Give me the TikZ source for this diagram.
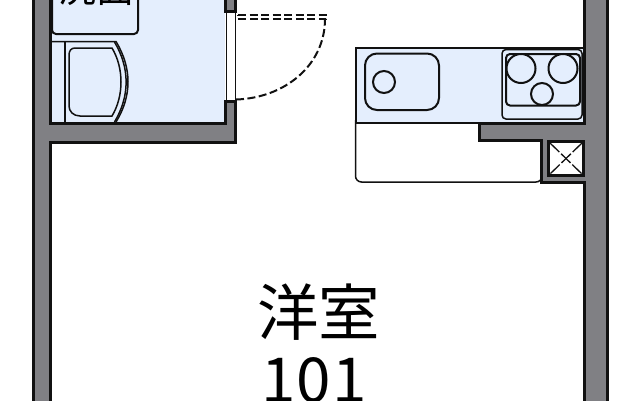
\documentclass[tikz,border=0pt]{standalone}
\usepackage{fontspec}
\usetikzlibrary{calc}
\newfontfamily\cjk{Noto Sans CJK JP}
\definecolor{wallgray}{HTML}{808084}
\definecolor{roomblue}{HTML}{E4EEFD}
\definecolor{linek}{HTML}{111111}
\tikzset{
  wall/.style={fill=wallgray,draw=linek,line width=3pt,line join=miter},
  fixture/.style={draw=linek,line width=2pt},
  thin fixture/.style={draw=linek,line width=1.5pt},
  doorline/.style={draw=linek,line width=2pt,dash pattern=on 8pt off 3.5pt},
  label/.style={font=\cjk,text=black,inner sep=0pt}
}
\begin{document}
\begin{tikzpicture}[x=1pt,y=-1pt]
\useasboundingbox (0,0) rectangle (640,400);
\clip (0,0) rectangle (640,400);
\fill[white] (0,0) rectangle (640,400);
% bathroom floor
\fill[roomblue] (52,-5) rectangle (225,123);
% left wall with partition
\draw[wall] (33.5,-5) -- (33.5,405) -- (50.5,405) -- (50.5,142) -- (235,142) -- (235,101) -- (225,101) -- (225,123) -- (50.5,123) -- (50.5,-5) -- cycle;
% upper door jamb
\draw[wall] (225,-5) -- (225,11) -- (235,11) -- (235,-5);
% door opening
\draw[thin fixture] (226.5,12) -- (226.5,100);
\draw[thin fixture] (235.5,12) -- (235.5,100);
% door leaf and swing
\draw[doorline] (238,14.5) -- (326,14.5) -- (326,19) -- (238,19) -- cycle;
\draw[doorline] (236,99.5) .. controls (285,98) and (325,65) .. (325,19);
% basin counter
\draw[fixture,rounded corners=4pt] (52,-10) -- (52,34) -- (138,34) -- (138,-10);
\node[label,font=\cjk\fontsize{38}{38}\selectfont] (wash) at (96,-11.5) {洗面};
% toilet
\draw[thin fixture] (52,41.5) -- (116,41.5) .. controls (132,68) and (132,96) .. (116,122);
\draw[thin fixture] (114.5,42) .. controls (130,68) and (130,96) .. (114.5,122);
\draw[fixture] (65,41.5) -- (65,122);
\draw[thin fixture] (75,48) -- (112,48) .. controls (124,68) and (124,96) .. (112,116) -- (80,116) .. controls (73,116) and (69,111) .. (69,106) -- (69,55) .. controls (69,51) and (71,48) .. (75,48) -- cycle;
% kitchen floor part and counter
\draw[thin fixture,fill=white,rounded corners=6pt] (355.5,120) -- (355.5,182) -- (542,182) -- (542,120);
\fill[roomblue] (355.5,47.5) rectangle (584,122);
\draw[fixture] (584,47.5) -- (355.5,47.5) -- (355.5,123) -- (480,123);
% right wall, stub and service duct
\draw[wall] (584.5,-5) -- (584.5,123) -- (479.5,123) -- (479.5,140.5) -- (541.5,140.5) -- (541.5,182) -- (584.5,182) -- (584.5,405) -- (607.5,405) -- (607.5,-5) -- cycle;
\node[draw=linek,line width=3pt,fill=white,minimum width=35pt,minimum height=34pt,inner sep=0pt] (duct) at (566,158.5) {};
\draw[draw=linek,line width=1.3pt,dash pattern=on 13pt off 2.5pt] ($(duct.north west)+(3,3)$) -- ($(duct.south east)+(-3,-3)$);
\draw[draw=linek,line width=1.3pt,dash pattern=on 13pt off 2.5pt] ($(duct.north east)+(-3,3)$) -- ($(duct.south west)+(3,-3)$);
% sink
\draw[fixture,rounded corners=12pt] (365,53.5) rectangle (439,110);
\node[fixture,circle,minimum size=22pt,inner sep=0pt] (drain) at (384,82) {};
% stove
\draw[thin fixture,rounded corners=4pt] (502,49.5) rectangle (582,119);
\draw[fixture,rounded corners=4pt] (506,54) rectangle (580,105.5);
\node[fixture,circle,fill=roomblue,minimum size=29pt,inner sep=0pt] (b1) at (521,68.5) {};
\node[fixture,circle,fill=roomblue,minimum size=29pt,inner sep=0pt] (b2) at (563,68.5) {};
\node[fixture,circle,fill=roomblue,minimum size=22pt,inner sep=0pt] (b3) at (542,94) {};
% labels
\node[label,anchor=center,font=\cjk\fontsize{61.5}{61.5}\selectfont] (room) at (318.5,312) {洋室};
\node[label,anchor=base,font=\cjk\fontsize{62}{62}\selectfont\addfontfeature{LetterSpace=2}] (num) at (314,402) {101};
\end{tikzpicture}
\end{document}
